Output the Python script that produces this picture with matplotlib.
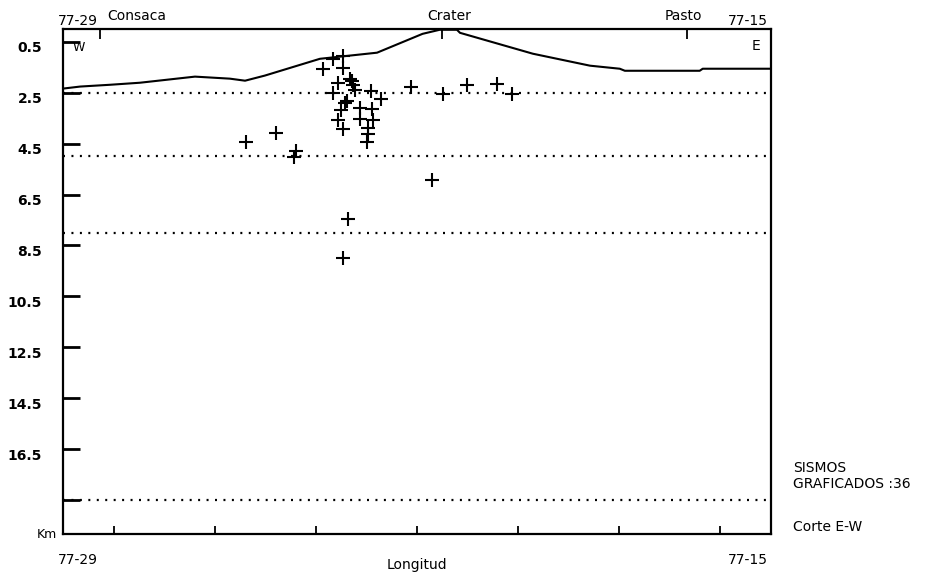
import matplotlib
matplotlib.use("Agg")
from matplotlib import pyplot as plt
from matplotlib.transforms import ScaledTranslation

# longitud in minutes west of 77 deg, depth in km
quake_lon = [25.38, 24.79, 24.40, 24.43, 23.86, 23.66, 23.47, 23.47, 23.33, 23.27,
             23.23, 23.57, 23.66, 22.91, 22.72, 22.12, 21.49, 21.02, 20.42, 20.13,
             23.43, 23.51, 23.57, 23.47, 23.13, 22.89, 23.13, 22.87, 22.97, 22.99,
             21.71, 23.37, 23.47, 23.39, 23.29, 22.97]
quake_depth = [4.43, 4.08, 4.78, 5.02, 1.56, 1.17, 1.05, 1.52, 1.95, 2.19,
               2.39, 2.11, 2.50, 2.43, 2.74, 2.27, 2.54, 2.19, 2.15, 2.54,
               2.90, 3.17, 3.56, 3.92, 3.09, 3.13, 3.53, 3.56, 3.88, 4.43,
               5.92, 7.45, 8.99, 2.82, 2.03, 4.11]

topo_lon = [29.0, 28.66, 28.07, 27.48, 26.39, 25.70, 25.40, 25.01, 23.92, 22.79,
            21.89, 21.55, 21.21, 21.15, 19.71, 18.58, 17.99, 17.89, 16.41, 16.35, 15.0]
topo_depth = [2.34, 2.26, 2.19, 2.11, 1.87, 1.95, 2.03, 1.83, 1.17, 0.93,
              0.19, 0.03, 0.03, 0.15, 0.97, 1.44, 1.56, 1.64, 1.64, 1.56, 1.56]

layers = [2.5, 5.0, 8.0, 18.5]
depth_ticks = [0.5, 2.5, 4.5, 6.5, 8.5, 10.5, 12.5, 14.5, 16.5, 18.5]
depth_labels = ['0.5', '2.5', '4.5', '6.5', '8.5', '10.5', '12.5', '14.5', '16.5', '']
lon_ticks = [28, 26, 24, 22, 20, 18, 16]
towns = ['Consaca', 'Crater', 'Pasto']
town_lon = [28.27, 21.51, 16.67]

fig = plt.figure(figsize=(9.3, 5.75), dpi=100)
ax = fig.add_axes([63/930, 41/575, 708/930, 505/575])
ax.set_xlim(29, 15)
ax.set_ylim(19.83, 0.0)

for d in layers:
    ax.axhline(d, color='black', lw=1.6, linestyle=(0, (0.9, 2.9)))
ax.plot(topo_lon, topo_depth, color='black', lw=1.5)
ax.plot(quake_lon, quake_depth, '+', color='black', ms=10, mew=1.5)

for s in ax.spines.values():
    s.set_linewidth(1.6)

ax.set_yticks(depth_ticks, labels=depth_labels)
ax.tick_params(axis='y', direction='in', length=12, width=2, pad=15,
               labelsize=10)
for lab in ax.get_yticklabels():
    lab.set_fontweight('bold')
    lab.set_transform(lab.get_transform() + ScaledTranslation(0, -5/100, fig.dpi_scale_trans))

ax.set_xticks(lon_ticks, labels=['']*len(lon_ticks))
ax.tick_params(axis='x', direction='in', length=6, width=1.3)

top = ax.secondary_xaxis('top')
top.set_xticks(town_lon, labels=['']*len(town_lon))
top.tick_params(direction='in', length=7, width=1.3)
top.spines['top'].set_visible(False)

ax.annotate(towns[0], (town_lon[0], 1), xycoords=('data', 'axes fraction'),
            xytext=(5, 4), textcoords='offset points', ha='left', va='bottom', fontsize=10)
ax.annotate(towns[1], (town_lon[1], 1), xycoords=('data', 'axes fraction'),
            xytext=(5, 4), textcoords='offset points', ha='center', va='bottom', fontsize=10)
ax.annotate(towns[2], (town_lon[2], 1), xycoords=('data', 'axes fraction'),
            xytext=(-2, 4), textcoords='offset points', ha='center', va='bottom', fontsize=10)
ax.annotate('77-29', (29, 1), xycoords=('data', 'axes fraction'),
            xytext=(-4, 1), textcoords='offset points', ha='left', va='bottom', fontsize=10)
ax.annotate('77-15', (15, 1), xycoords=('data', 'axes fraction'),
            xytext=(-2, 1), textcoords='offset points', ha='right', va='bottom', fontsize=10)
ax.annotate('77-29', (29, 0), xycoords=('data', 'axes fraction'),
            xytext=(-4, -14), textcoords='offset points', ha='left', va='top', fontsize=10)
ax.annotate('77-15', (15, 0), xycoords=('data', 'axes fraction'),
            xytext=(-2, -14), textcoords='offset points', ha='right', va='top', fontsize=10)
ax.annotate('Km', (29, 0), xycoords=('data', 'axes fraction'),
            xytext=(-4, 0), textcoords='offset points', ha='right', va='center', fontsize=9)
ax.text(0.013, 0.977, 'W', transform=ax.transAxes, ha='left', va='top', fontsize=9)
ax.text(0.985, 0.98, 'E', transform=ax.transAxes, ha='right', va='top', fontsize=10)
ax.set_xlabel('Longitud', fontsize=10, labelpad=14)

fig.text(793/930, 1-468/575, 'SISMOS', fontsize=10, va='center')
fig.text(793/930, 1-484/575, 'GRAFICADOS :36', fontsize=10, va='center')
fig.text(793/930, 1-527/575, 'Corte E-W', fontsize=10, va='center')

fig.savefig('out.png', dpi=100)
